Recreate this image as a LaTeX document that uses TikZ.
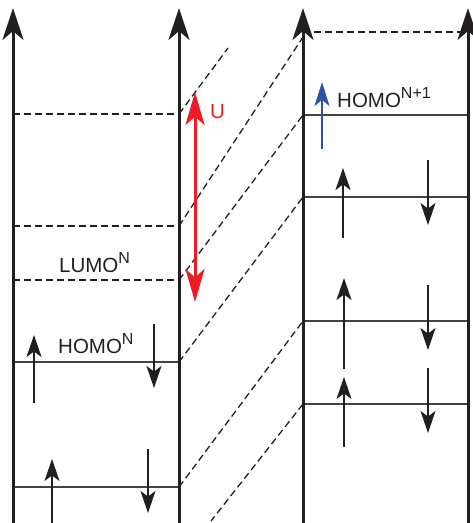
\documentclass[tikz,border=0pt]{standalone}
\usepackage{fontspec}
\setmainfont{Liberation Sans}
\usetikzlibrary{arrows.meta}
\definecolor{ink}{RGB}{35,31,32}
\definecolor{ured}{RGB}{237,28,36}
\definecolor{ublue}{RGB}{46,84,166}
\newcommand\upidx[1]{\raisebox{0.42em}{\fontsize{16}{16}\selectfont #1}}
\begin{document}
\begin{tikzpicture}[x=1pt,y=-1pt,
  axis/.style={line width=3pt, draw=ink, -{Stealth[length=32pt,width=21pt,inset=9pt]}},
  level/.style={line width=1.25pt, draw=ink!85},
  dlevel/.style={line width=1.3pt, draw=ink, dash pattern=on 7pt off 4pt},
  spin/.style={line width=1.7pt, draw=ink, -{Stealth[length=22pt,width=15pt,inset=5.5pt]}},
  lab/.style={inner sep=0pt, anchor=base west, font=\fontsize{20.5}{21}\selectfont, text=ink},
]
\useasboundingbox (0,0) rectangle (473,523);

% axes
\coordinate (a1b) at (13,523);  \coordinate (a1t) at (13,8);
\coordinate (a2b) at (179,523); \coordinate (a2t) at (179,8);
\coordinate (a3b) at (303,523); \coordinate (a3t) at (303,8);
\coordinate (a4b) at (468,523); \coordinate (a4t) at (468,8);

% left panel levels
\coordinate (l1a) at (13,114);  \coordinate (l1b) at (179,114);
\coordinate (l2a) at (13,226);  \coordinate (l2b) at (179,226);
\coordinate (l3a) at (13,280);  \coordinate (l3b) at (179,280);
\coordinate (l4a) at (13,362);  \coordinate (l4b) at (179,362);
\coordinate (l5a) at (13,487);  \coordinate (l5b) at (179,487);

% right panel levels
\coordinate (r1a) at (303,32);  \coordinate (r1b) at (468,32);
\coordinate (r2a) at (303,115); \coordinate (r2b) at (468,115);
\coordinate (r3a) at (303,197); \coordinate (r3b) at (468,197);
\coordinate (r4a) at (303,321); \coordinate (r4b) at (468,321);
\coordinate (r5a) at (303,404); \coordinate (r5b) at (468,404);

% diagonal ends
\coordinate (d1) at (228,48);
\coordinate (d2) at (303,37);
\coordinate (d6) at (211,521);

\draw[dlevel] (l1a) -- (l1b);
\draw[dlevel] (l2a) -- (l2b);
\draw[dlevel] (l3a) -- (l3b);
\draw[level] (l4a) -- (l4b);
\draw[level] (l5a) -- (l5b);

\draw[dlevel] (r1a) -- (r1b);
\draw[level] (r2a) -- (r2b);
\draw[level] (r3a) -- (r3b);
\draw[level] (r4a) -- (r4b);
\draw[level] (r5a) -- (r5b);

% diagonals
\draw[dlevel] (l1b) -- (d1);
\draw[dlevel] (l2b) -- (d2);
\draw[dlevel] (l3b) -- (r2a);
\draw[dlevel] (l4b) -- (r3a);
\draw[dlevel] (l5b) -- (r4a);
\draw[dlevel] (r5a) -- (d6);

\draw[axis] (a1b) -- (a1t);
\draw[axis] (a2b) -- (a2t);
\draw[axis] (a3b) -- (a3t);
\draw[axis] (a4b) -- (a4t);

% spins left
\coordinate (s1a) at (34,403);  \coordinate (s1b) at (34,335);
\coordinate (s2a) at (154,324); \coordinate (s2b) at (154,388);
\coordinate (s3a) at (52,523);  \coordinate (s3b) at (52,459);
\coordinate (s4a) at (148,449); \coordinate (s4b) at (148,513);
\draw[spin] (s1a) -- (s1b);
\draw[spin] (s2a) -- (s2b);
\draw[spin] (s3a) -- (s3b);
\draw[spin] (s4a) -- (s4b);

% spins right
\coordinate (t1a) at (343,238); \coordinate (t1b) at (343,168);
\coordinate (t2a) at (428,160); \coordinate (t2b) at (428,225);
\coordinate (t3a) at (344,369); \coordinate (t3b) at (344,278);
\coordinate (t4a) at (428,285); \coordinate (t4b) at (428,350);
\coordinate (t5a) at (344,447); \coordinate (t5b) at (344,377);
\coordinate (t6a) at (428,368); \coordinate (t6b) at (428,433);
\draw[spin] (t1a) -- (t1b);
\draw[spin] (t2a) -- (t2b);
\draw[spin] (t3a) -- (t3b);
\draw[spin] (t4a) -- (t4b);
\draw[spin] (t5a) -- (t5b);
\draw[spin] (t6a) -- (t6b);

% blue spin
\coordinate (b1a) at (322,149); \coordinate (b1b) at (322,82);
\draw[line width=2pt, draw=ublue, -{Stealth[length=24pt,width=15pt,inset=6pt]}] (b1a) -- (b1b);

% red U arrow
\coordinate (u1) at (195,92); \coordinate (u2) at (195,302);
\draw[line width=3pt, draw=ured, {Stealth[length=33pt,width=19pt,inset=8.5pt]}-{Stealth[length=33pt,width=19pt,inset=8.5pt]}] (u1) -- (u2);

% labels
\node[lab, text=ured] (lu) at (210,118) {U};
\node[lab] (llumo) at (59,272) {LUMO\upidx{N}};
\node[lab] (lhomo) at (58,353) {HOMO\upidx{N}};
\node[lab] (lhomo1) at (337,107) {HOMO\upidx{N+1}};
\end{tikzpicture}
\end{document}
